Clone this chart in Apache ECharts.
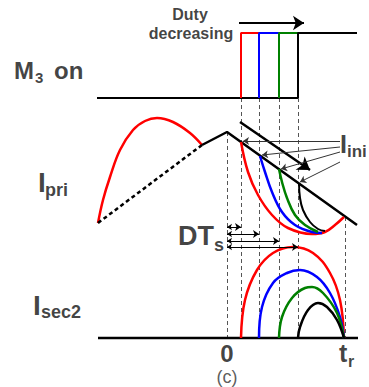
<!DOCTYPE html>
<html><head><meta charset="utf-8">
<script src="https://cdn.jsdelivr.net/npm/echarts@6/dist/echarts.min.js"></script>
<style>html,body{margin:0;padding:0;background:#fff}#c{width:369px;height:387px}</style>
</head><body><div id="c"></div>
<script>
// ---- data (diagram coordinates: x to the right, y downward) ----
const m3Low   = [[97,98],[298,98]];
const m3Red   = [[241,98],[241,33],[259,33]];
const m3Blue  = [[259,98],[259,33],[279,33]];
const m3Green = [[279,98],[279,33],[298,33]];
const m3Black = [[298,98],[298,33],[357,33]];
const dutyArrow = [[239,23],[304,23]];

const priRedArc   = [[98,223],[103,200],[110,177],[120,150],[133,130],[145,121],[157,118],[173,122],[190,133],[202,145]];
const priDashed   = [[98,223],[202,145]];
const priRamp     = [[202,145],[227,132],[357,225]];
const priArrow    = [[240,122],[310,170]];
const priRed   = [[241,142],[248,172],[258,195],[272,215],[288,228],[312,234],[325,232],[335,225],[344,217]];
const priBlue  = [[260,156],[265,172],[272,192],[282,212],[295,225],[312,232],[322,233]];
const priGreen = [[279,169],[282,182],[287,198],[295,215],[305,225],[318,232]];
const priBlack = [[299,183],[300,198],[303,210],[310,222],[318,229],[325,231]];
const iniLeaders = [[[340,141],[243,141]],[[340,147],[262,155]],[[340,152],[281,169]],[[340,162],[300,182]]];
const dtArrows = [[[227,227],[241,227]],[[227,234],[259,234]],[[227,241],[279,241]],[[227,247],[298,247]]];
const dashedV = [[[227,132],[227,338]],[[241,98],[241,338]],[[259,98],[259,338]],[[279,98],[279,338]],[[298,98],[298,338]],[[345,217],[345,338]]];

const secBase  = [[98,338],[358,338]];
const secRed   = [[241,338],[245,300],[257,270],[273,253],[293,247],[313,253],[330,273],[340,300],[344,338]];
const secBlue  = [[259,338],[262,307],[273,283],[287,273],[300,270],[317,277],[330,293],[340,317],[344,338]];
const secGreen = [[279,338],[282,317],[292,298],[305,288],[312,287],[323,293],[337,313],[344,338]];
const secBlack = [[298,338],[300,327],[308,310],[318,303],[327,307],[337,320],[344,338]];

// text labels: [text, x, y, size, weight, align]
const labels = [
  ['Duty',190,14,16,'bold','center'],
  ['decreasing',191,33,16,'bold','center'],
  ['M',14,70,24,'bold','left'],
  ['3',35,77,15,'bold','left'],
  ['on',54,70,24,'bold','left'],
  ['I',38,182,28,'bold','left'],
  ['pri',45,190,18,'bold','left'],
  ['I',340,144,25,'bold','left'],
  ['ini',347,151,17,'bold','left'],
  ['DT',178,236,27,'bold','left'],
  ['s',214,245,18,'bold','left'],
  ['I',33,305,28,'bold','left'],
  ['sec2',41,312,18,'bold','left'],
  ['0',227,353,24,'bold','center'],
  ['t',339,353,25,'bold','left'],
  ['r',348,361,16,'bold','left'],
  ['(c)',227,377,18,'normal','center']
];

const RED='#ff0000', BLUE='#0000ff', GREEN='#008000', BLACK='#000000';
const FONT = '"Liberation Sans", Arial, sans-serif';

function ln(data, color, width, smooth, extra) {
  return Object.assign({type:'line', data, showSymbol:false, symbol:'none', smooth: smooth||false,
    lineStyle:{color, width}, silent:true, animation:false, z:3}, extra||{});
}
function segs(list, color, width, type, symbol, symSize, z) {
  return {type:'lines', coordinateSystem:'cartesian2d', silent:true, animation:false, z: z||2,
    symbol: symbol, symbolSize: symSize,
    lineStyle:{color, width, type, opacity:1},
    data: list.map(c => ({coords:c}))};
}

const series = [
  segs(dashedV, '#555', 1, [4,3], ['none','none'], 0, 1),
  ln(m3Low, BLACK, 2),
  ln(m3Red, RED, 2), ln(m3Blue, BLUE, 2), ln(m3Green, GREEN, 2), ln(m3Black, BLACK, 2),
  segs([dutyArrow], BLACK, 2, 'solid', ['none','arrow'], [9,11], 4),
  ln(priRedArc, RED, 2.5, 0.4),
  ln(priDashed, BLACK, 2.5, false, {lineStyle:{color:BLACK,width:2.5,type:[4,3]}}),
  ln(priRamp, BLACK, 2.5),
  segs([priArrow], BLACK, 2.5, 'solid', ['none','arrow'], [10,12], 4),
  ln(priRed, RED, 2.5, 0.4), ln(priBlue, BLUE, 2.5, 0.4), ln(priGreen, GREEN, 2.5, 0.4), ln(priBlack, BLACK, 2, 0.4),
  segs(iniLeaders, '#333', 1, 'solid', ['none','arrow'], [5,6], 5),
  segs(dtArrows, BLACK, 1, 'solid', ['arrow','arrow'], [5,6], 4),
  ln(secBase, BLACK, 2.5),
  ln(secRed, RED, 2.5, 0.4), ln(secBlue, BLUE, 2.5, 0.4), ln(secGreen, GREEN, 2.5, 0.4), ln(secBlack, BLACK, 2.5, 0.4),
  {type:'scatter', symbolSize:0, silent:true, animation:false, z:10,
   data: labels.map(l => ({value:[l[1],l[2]], label:{show:true, formatter:l[0],
      position: l[5]==='center' ? 'inside' : 'right', distance:0,
      fontSize:l[3], fontWeight:l[4], fontFamily:FONT, color: l[0]==='(c)' ? '#333' : '#111',
      align: l[5]==='center' ? 'center' : 'left', verticalAlign:'middle'}}))}
];

const chart = echarts.init(document.getElementById('c'), null, {renderer:'svg'});
chart.setOption({
  animation:false,
  grid:{left:0,right:0,top:0,bottom:0},
  xAxis:{type:'value',min:0,max:369,show:false},
  yAxis:{type:'value',min:0,max:387,inverse:true,show:false},
  series
});
</script></body></html>
